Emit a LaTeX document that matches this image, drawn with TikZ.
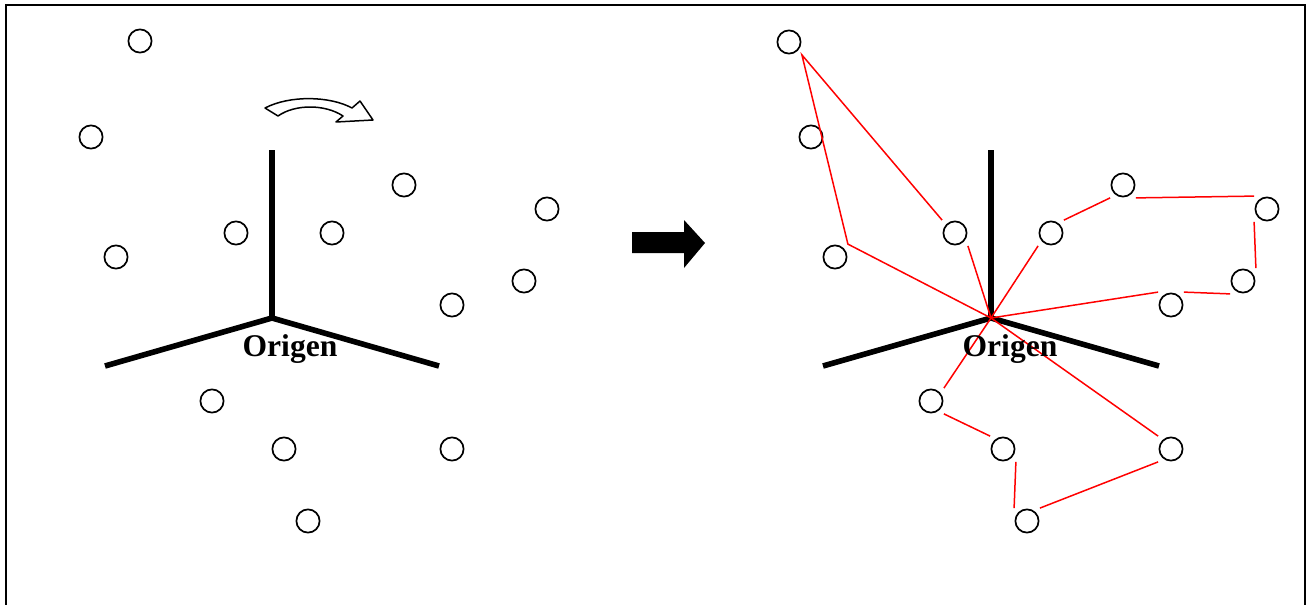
\documentclass[tikz,border=0pt]{standalone}
\usepackage{fontspec}
\setmainfont{Liberation Serif}
\usepackage{tikz}
\usetikzlibrary{positioning}

\tikzset{
    dot/.style={rectangle, inner sep=0pt, minimum size=12.5pt,
        path picture={\draw[line width=0.85pt] (path picture bounding box.center) circle (5.8pt);}},
    axis/.style={line width=2.8pt},
    link/.style={red, line width=0.75pt},
    lbl/.style={anchor=base, font=\fontsize{15.8}{19}\selectfont\bfseries, inner sep=0pt}
}

\begin{document}
\begin{tikzpicture}[x=0.5pt, y=-0.5pt]
    \useasboundingbox (0,0) rectangle (1313,605);
    % open frame, no bottom edge
    \draw [line width=1pt] (6,605) -- (6,4.5) -- (1305,4.5) -- (1305,605);

    % left: scattered points around the axes
    \coordinate (o1) at (272,318);
    \draw [axis] (272,150) -- (o1);
    \draw [axis] (105,366) -- (o1) -- (439,366);
    \node[lbl] (lab1) at (290,356.5) {Origen};
    \foreach \n/\x/\y in {1/140/41, 2/91/137, 3/116/257, 4/236/233, 5/332/233,
        6/404/185, 7/547/209, 8/524/281, 9/452/305, 10/212/401, 11/284/449,
        12/452/449, 13/308/521}
        \node[dot] (p\n) at (\x,\y) {};

    % curved hollow arrow
    \draw [line width=0.75pt, line join=round] (265,108) .. controls (290,95) and (330,96) .. (352,108)
        -- (360,101) -- (373,120) -- (336,122) -- (343,116)
        .. controls (325,104) and (295,104) .. (278,116) -- cycle;

    % block arrow between the two halves
    \fill (632,232) -- (684,232) -- (684,220) -- (705,243) -- (684,268) -- (684,253) -- (632,253) -- cycle;

    % right: points joined to the origin
    \coordinate (o2) at (991,318);
    \draw [axis] (991,150) -- (o2);
    \draw [axis] (823,366) -- (o2) -- (1159,366);
    \foreach \n/\x/\y in {1/789/42, 2/811/137, 3/835/257, 4/955/233, 5/1051/233,
        6/1123/185, 7/1267/209, 8/1243/281, 9/1171/305, 10/931/401, 11/1003/449,
        12/1171/449, 13/1027/521}
        \node[dot] (q\n) at (\x,\y) {};

    \draw [link] (q4.north west) -- (q1.south east) -- (q3.north east) -- (o2);
    \draw [link] (q4.south east) -- (o2);
    \draw [link] (o2) -- (q5.south west);
    \draw [link] (q5.north east) -- (q6.south west);
    \draw [link] (q6.south east) -- (q7.north west);
    \draw [link] (q7.south west) -- (q8.north east);
    \draw [link] (q8.south west) -- (q9.north east);
    \draw [link] (q9.north west) -- (o2);
    \draw [link] (o2) -- (q10.north east);
    \draw [link] (q10.south east) -- (q11.north west);
    \draw [link] (q11.south east) -- (q13.north west);
    \draw [link] (q13.north east) -- (q12.south west);
    \draw [link] (q12.north west) -- (o2);

    \node[lbl] (lab2) at (1010,356.5) {Origen};
\end{tikzpicture}
\end{document}
